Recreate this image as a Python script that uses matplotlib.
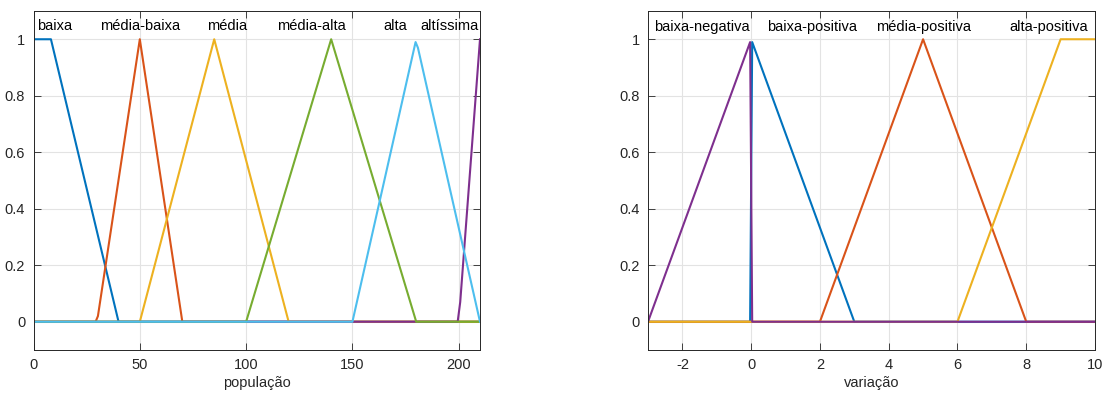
import matplotlib
matplotlib.use("Agg")
import matplotlib.pyplot as plt

plt.rcParams['font.family'] = ['Liberation Sans', 'DejaVu Sans']

# MATLAB default line colours
C_BLUE = '#0072BD'
C_ORANGE = '#D95319'
C_YELLOW = '#EDB120'
C_PURPLE = '#7E2F8E'
C_GREEN = '#77AC30'
C_CYAN = '#4DBEEE'
AX_COLOR = '#262626'

# ---- população: membership function breakpoints ----
baixa_x = [0, 8.2, 40, 210]
baixa_y = [1, 1, 0, 0]
media_baixa_x = [0, 29.2, 30.3, 50, 70, 210]
media_baixa_y = [0, 0, 0.02, 1, 0, 0]
media_x = [0, 50, 85, 120, 210]
media_y = [0, 0, 1, 0, 0]
altissima_x = [0, 199.5, 200.7, 210]
altissima_y = [0, 0, 0.07, 1]
media_alta_x = [0, 100, 140, 180, 210]
media_alta_y = [0, 0, 1, 0, 0]
alta_x = [0, 150, 179.7, 180.8, 210]
alta_y = [0, 0, 0.99, 0.97, 0]

pop_labels = ['baixa', 'média-baixa', 'média', 'média-alta', 'alta', 'altíssima']
pop_label_x = [9.7, 50.3, 90.9, 130.8, 170.0, 195.5]

# ---- variação: membership function breakpoints ----
baixa_pos_x = [-3, -0.03, 0.03, 3, 10]
baixa_pos_y = [0, 0, 0.99, 0, 0]
media_pos_x = [-3, 2, 5, 8, 10]
media_pos_y = [0, 0, 1, 0, 0]
alta_pos_x = [-3, 6, 9, 10]
alta_pos_y = [0, 0, 1, 1]
baixa_neg_x = [-3, -0.03, 0.03, 10]
baixa_neg_y = [0, 0.99, 0, 0]

var_labels = ['baixa-negativa', 'baixa-positiva', 'média-positiva', 'alta-positiva']
var_label_x = [-1.43, 1.76, 5.02, 8.65]

y_ticks = [0, 0.2, 0.4, 0.6, 0.8, 1]
y_ticklabels = ['0', '0.2', '0.4', '0.6', '0.8', '1']
pop_ticks = [0, 50, 100, 150, 200]
var_ticks = [-2, 0, 2, 4, 6, 8, 10]

FS = 10.5
LW = 1.5

fig = plt.figure(figsize=(11.08, 3.94), dpi=100)
ax1 = fig.add_axes([33.5 / 1108, 44 / 394, 446.5 / 1108, 339 / 394])
ax2 = fig.add_axes([648 / 1108, 44 / 394, 447 / 1108, 339 / 394])


def style(ax, xlim, xticks, xlabel):
    ax.set_xlim(*xlim)
    ax.set_ylim(-0.1, 1.1)
    ax.set_xticks(xticks)
    ax.set_xticklabels([str(t) for t in xticks])
    ax.set_yticks(y_ticks)
    ax.set_yticklabels(y_ticklabels)
    ax.grid(True, color='#e3e3e3', linewidth=0.8)
    ax.set_axisbelow(True)
    ax.tick_params(direction='in', length=5, width=0.6, top=True, right=True,
                   colors=AX_COLOR, labelsize=FS, pad=6)
    for s in ax.spines.values():
        s.set_color(AX_COLOR)
        s.set_linewidth(0.7)
    ax.set_xlabel(xlabel, fontsize=FS, color=AX_COLOR, labelpad=3)


# população
ax1.plot(baixa_x, baixa_y, color=C_BLUE, lw=LW)
ax1.plot(media_baixa_x, media_baixa_y, color=C_ORANGE, lw=LW)
ax1.plot(media_x, media_y, color=C_YELLOW, lw=LW)
ax1.plot(altissima_x, altissima_y, color=C_PURPLE, lw=LW)
ax1.plot(media_alta_x, media_alta_y, color=C_GREEN, lw=LW)
ax1.plot(alta_x, alta_y, color=C_CYAN, lw=LW)
for lab, x in zip(pop_labels, pop_label_x):
    ax1.text(x, 1.048, lab, ha='center', va='center', fontsize=FS, color='black')
style(ax1, (0, 210), pop_ticks, 'população')

# variação
ax2.plot(baixa_pos_x, baixa_pos_y, color=C_BLUE, lw=LW)
ax2.plot(media_pos_x, media_pos_y, color=C_ORANGE, lw=LW)
ax2.plot(alta_pos_x, alta_pos_y, color=C_YELLOW, lw=LW)
ax2.plot(baixa_neg_x, baixa_neg_y, color=C_PURPLE, lw=LW)
for lab, x in zip(var_labels, var_label_x):
    ax2.text(x, 1.045, lab, ha='center', va='center', fontsize=FS, color='black')
style(ax2, (-3, 10), var_ticks, 'variação')

fig.savefig('out.png', dpi=100)
